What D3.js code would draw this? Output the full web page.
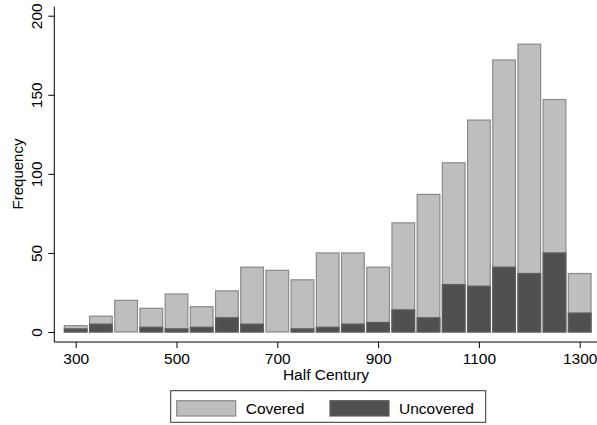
<!DOCTYPE html>
<html>
<head>
<meta charset="utf-8">
<script src="https://cdn.jsdelivr.net/npm/d3@7"></script>
<style>
  body { margin: 0; background: #fff; }
  text { font-family: "Liberation Sans", Arial, Helvetica, sans-serif; fill: #000; }
</style>
</head>
<body>
<div id="chart"></div>
<script>
// --- données ---
const halfCentury = [300, 350, 400, 450, 500, 550, 600, 650, 700, 750, 800,
                     850, 900, 950, 1000, 1050, 1100, 1150, 1200, 1250, 1300];
const covered   = [4, 10, 20, 15, 24, 16, 26, 41, 39, 33, 50,
                   50, 41, 69, 87, 107, 134, 172, 182, 147, 37];
const uncovered = [2, 5, 0, 3, 2, 3, 9, 5, 0, 2, 3,
                   5, 6, 14, 9, 30, 29, 41, 37, 50, 12];
const xTicks = [300, 500, 700, 900, 1100, 1300];
const yTicks = [0, 50, 100, 150, 200];
const legendLabels = ["Covered", "Uncovered"];

const largeur = 597, hauteur = 425;
const binWidth = 50;
const taille = 15.5; // taille du texte

const svg = d3.select("#chart").append("svg")
    .attr("width", largeur)
    .attr("height", hauteur);

// échelles
const x = d3.scaleLinear().domain([300, 1300]).range([75.7, 579.7]);
const y = d3.scaleLinear().domain([0, 200]).range([332, 15.7]);

const rows = halfCentury.map((v, i) => ({ v, covered: covered[i], uncovered: uncovered[i] }));
const half = binWidth * 0.45;

// barres claires (total)
svg.append("g").selectAll("rect")
    .data(rows)
    .join("rect")
    .attr("x", d => x(d.v - half))
    .attr("width", d => x(d.v + half) - x(d.v - half))
    .attr("y", d => y(d.covered))
    .attr("height", d => y(0) - y(d.covered))
    .attr("fill", "#bebebe")
    .attr("stroke", "#8a8a8a")
    .attr("stroke-width", 1.2);

// barres foncées (non couvertes)
svg.append("g").selectAll("rect")
    .data(rows.filter(d => d.uncovered > 0))
    .join("rect")
    .attr("x", d => x(d.v - half))
    .attr("width", d => x(d.v + half) - x(d.v - half))
    .attr("y", d => y(d.uncovered))
    .attr("height", d => y(0) - y(d.uncovered))
    .attr("fill", "#505050")
    .attr("stroke", "#5e5e5e")
    .attr("stroke-width", 1.2);

// axe X
const xAxis = svg.append("g")
    .attr("transform", "translate(0,342)")
    .call(d3.axisBottom(x).tickValues(xTicks).tickSize(6).tickFormat(d3.format("d")));
xAxis.select(".domain").remove();
xAxis.selectAll("text")
    .attr("font-size", taille)
    .attr("font-family", "Liberation Sans, Arial, sans-serif")
    .attr("y", 21.5)
    .attr("dy", 0);
svg.append("line")
    .attr("x1", 54.3).attr("x2", 597).attr("y1", 342).attr("y2", 342)
    .attr("stroke", "#000");

// axe Y
const yAxis = svg.append("g")
    .attr("transform", "translate(54.3,0)")
    .call(d3.axisLeft(y).tickValues(yTicks).tickSize(6).tickFormat(d3.format("d")));
yAxis.select(".domain").remove();
yAxis.selectAll("text")
    .attr("font-size", taille)
    .attr("font-family", "Liberation Sans, Arial, sans-serif")
    .attr("transform", "rotate(-90)")
    .attr("x", 0)
    .attr("y", -12.8)
    .attr("dy", 0)
    .attr("text-anchor", "middle");
svg.append("line")
    .attr("x1", 54.3).attr("x2", 54.3).attr("y1", 6.7).attr("y2", 342)
    .attr("stroke", "#000");

// titres
svg.append("text")
    .attr("x", 326).attr("y", 379.5)
    .attr("text-anchor", "middle")
    .attr("font-size", taille)
    .text("Half Century");
svg.append("text")
    .attr("transform", "translate(22.5,174) rotate(-90)")
    .attr("text-anchor", "middle")
    .attr("font-size", 15)
    .text("Frequency");

// légende
const leg = svg.append("g");
leg.append("rect")
    .attr("x", 170.7).attr("y", 390.7).attr("width", 315).attr("height", 31.6)
    .attr("fill", "#fff").attr("stroke", "#333").attr("stroke-width", 1);
const legItems = [
    { label: legendLabels[0], fill: "#bebebe", stroke: "#8a8a8a", x: 176.7 },
    { label: legendLabels[1], fill: "#505050", stroke: "#5e5e5e", x: 330 }
];
legItems.forEach(it => {
    leg.append("rect")
        .attr("x", it.x).attr("y", 400.7).attr("width", 59).attr("height", 15.3)
        .attr("fill", it.fill).attr("stroke", it.stroke).attr("stroke-width", 1.2);
    leg.append("text")
        .attr("x", it.x + 69).attr("y", 414)
        .attr("font-size", taille)
        .text(it.label);
});
</script>
</body>
</html>
